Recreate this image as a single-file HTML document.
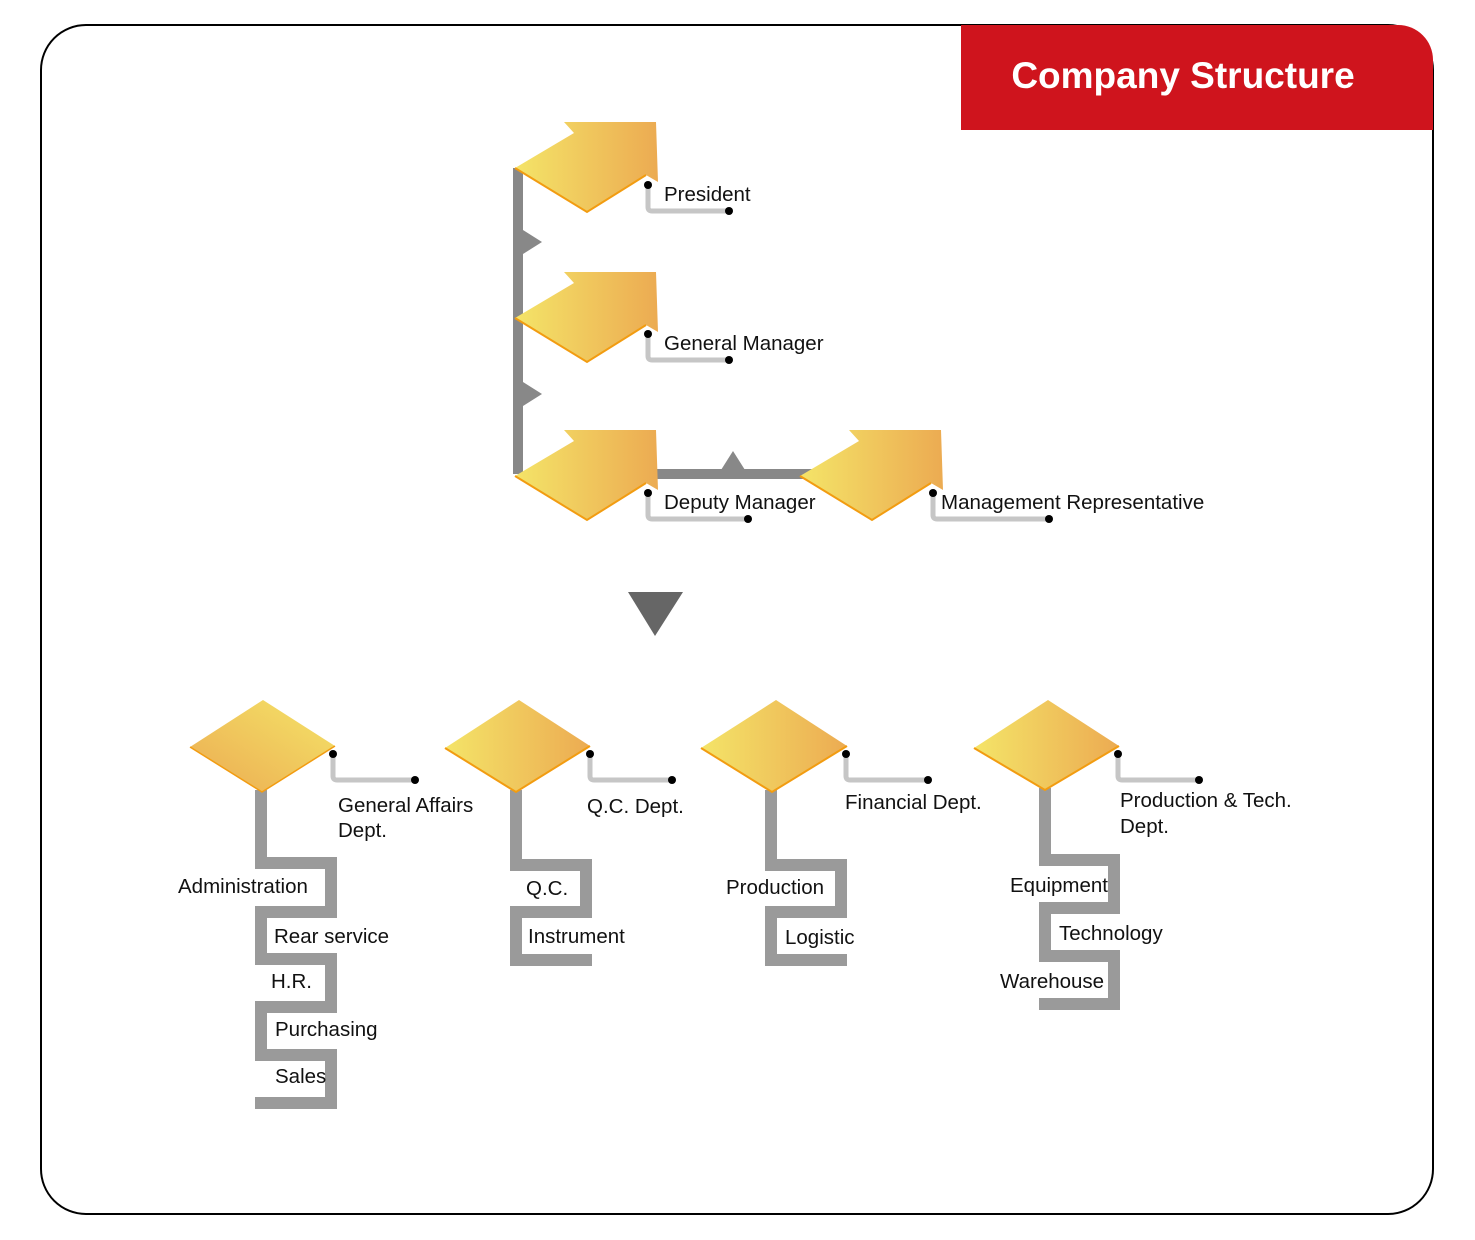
<!DOCTYPE html>
<html><head><meta charset="utf-8"><style>
html,body{margin:0;padding:0;background:#fff;}
svg{display:block;}
text{font-family:"Liberation Sans","DejaVu Sans",sans-serif;fill:#111;font-size:20.5px;}
</style></head><body>
<svg width="1475" height="1240" viewBox="0 0 1475 1240" xmlns="http://www.w3.org/2000/svg">
<defs>
<linearGradient id="g" x1="0" x2="1" y1="0" y2="0">
<stop offset="0" stop-color="#f4e468"/><stop offset="1" stop-color="#ecab52"/>
</linearGradient>
<linearGradient id="g2" x1="0" x2="1" y1="1" y2="0">
<stop offset="0" stop-color="#ecab52"/><stop offset="1" stop-color="#f4e468"/>
</linearGradient>
<symbol id="arr" overflow="visible">
<polygon points="0,46 59,11 49,0 141,0 143,60 131,53 72,90" fill="url(#g)"/>
<polyline points="0,46 72,90 131,53" fill="none" stroke="#f29c11" stroke-width="2"/>
</symbol>
</defs>
<rect x="41" y="25" width="1392" height="1189" rx="45" fill="none" stroke="#000" stroke-width="2"/>
<path d="M961,25 H1398 A35,35 0 0 1 1433,60 V130 H961 Z" fill="#cf141d"/>
<text x="1183" y="88" text-anchor="middle" style="font-size:37px;font-weight:bold;fill:#fff">Company Structure</text>

<rect x="513" y="168" width="10" height="306" fill="#888"/>
<polygon points="523,230 542,242 523,254" fill="#888"/>
<polygon points="523,382 542,394 523,406" fill="#888"/>
<rect x="655" y="469" width="160" height="10" fill="#888"/>
<polygon points="721,470 733,451 745,470" fill="#888"/>

<use href="#arr" x="515" y="122"/>
<use href="#arr" x="515" y="272"/>
<use href="#arr" x="515" y="430"/>
<use href="#arr" x="800" y="430"/>

<g fill="none" stroke="#c6c6c6" stroke-width="5" stroke-linejoin="round">
<path d="M648,185 V207 Q648,211 652,211 H729"/>
<path d="M648,334 V356 Q648,360 652,360 H729"/>
<path d="M648,493 V515 Q648,519 652,519 H748"/>
<path d="M933,493 V515 Q933,519 937,519 H1049"/>
<path d="M333,754 V776 Q333,780 337,780 H415"/>
<path d="M590,754 V776 Q590,780 594,780 H672"/>
<path d="M846,754 V776 Q846,780 850,780 H928"/>
<path d="M1118,754 V776 Q1118,780 1122,780 H1199"/>
</g>
<g fill="#000">
<circle cx="648" cy="185" r="4"/><circle cx="729" cy="211" r="4"/>
<circle cx="648" cy="334" r="4"/><circle cx="729" cy="360" r="4"/>
<circle cx="648" cy="493" r="4"/><circle cx="748" cy="519" r="4"/>
<circle cx="933" cy="493" r="4"/><circle cx="1049" cy="519" r="4"/>
<circle cx="333" cy="754" r="4"/><circle cx="415" cy="780" r="4"/>
<circle cx="590" cy="754" r="4"/><circle cx="672" cy="780" r="4"/>
<circle cx="846" cy="754" r="4"/><circle cx="928" cy="780" r="4"/>
<circle cx="1118" cy="754" r="4"/><circle cx="1199" cy="780" r="4"/>
</g>
<text x="664" y="201">President</text>
<text x="664" y="350">General Manager</text>
<text x="664" y="509">Deputy Manager</text>
<text x="941" y="509">Management Representative</text>

<polygon points="628,592 683,592 655,636" fill="#666"/>

<g fill="none" stroke="#9a9a9a" stroke-width="12" stroke-linejoin="miter">
<path d="M261,790 V863 H331 V912 H261 V959 H331 V1007 H261 V1055 H331 V1103 H255"/>
<path d="M516,790 V865 H586 V912 H516 V960 H592"/>
<path d="M771,790 V865 H841 V912 H771 V960 H847"/>
<path d="M1045,788 V860 H1114 V908 H1045 V956 H1114 V1004 H1039"/>
</g>

<polygon points="190,747 263,700 335,746 262,792" fill="url(#g2)"/>
<polyline points="190,747 262,792 335,746" fill="none" stroke="#f29c11" stroke-width="1.5"/>
<polygon points="445,748 519,700 590,746 516,792" fill="url(#g)"/>
<polyline points="445,748 516,792 590,746" fill="none" stroke="#f29c11" stroke-width="2"/>
<polygon points="701,748 776,700 847,746 772,792" fill="url(#g)"/>
<polyline points="701,748 772,792 847,746" fill="none" stroke="#f29c11" stroke-width="2"/>
<polygon points="974,748 1048,700 1119,746 1045,790" fill="url(#g)"/>
<polyline points="974,748 1045,790 1119,746" fill="none" stroke="#f29c11" stroke-width="2"/>

<text x="338" y="812">General Affairs</text>
<text x="338" y="837">Dept.</text>
<text x="587" y="813">Q.C. Dept.</text>
<text x="845" y="809">Financial Dept.</text>
<text x="1120" y="807">Production &amp; Tech.</text>
<text x="1120" y="833">Dept.</text>

<text x="178" y="893">Administration</text>
<text x="274" y="943">Rear service</text>
<text x="271" y="988">H.R.</text>
<text x="275" y="1036">Purchasing</text>
<text x="275" y="1083">Sales</text>

<text x="526" y="895">Q.C.</text>
<text x="528" y="943">Instrument</text>
<text x="726" y="894">Production</text>
<text x="785" y="944">Logistic</text>
<text x="1010" y="892">Equipment</text>
<text x="1059" y="940">Technology</text>
<text x="1000" y="988">Warehouse</text>
</svg>
</body></html>
